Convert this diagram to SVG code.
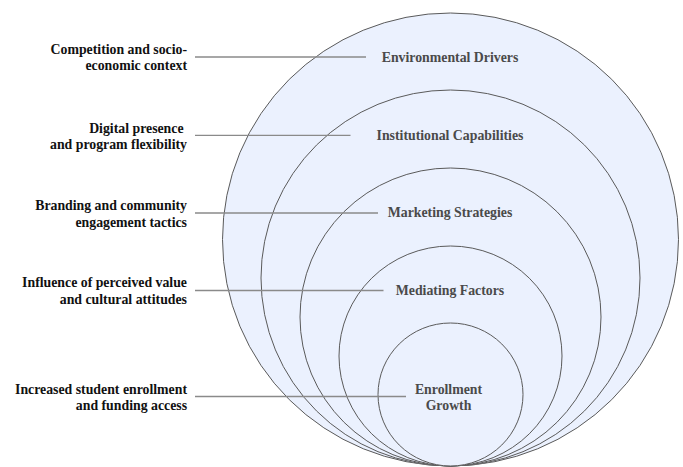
<svg xmlns="http://www.w3.org/2000/svg" width="683" height="467" viewBox="0 0 683 467" font-family="'Liberation Serif', 'Times New Roman', Tinos, 'DejaVu Serif', serif">
  <style>
    .ring { fill: #ebf1fe; stroke: #5a5a5a; stroke-width: 1; }
    .ring-label { font-family: 'Liberation Serif', 'Times New Roman', Tinos, 'DejaVu Serif', serif; font-weight: bold; font-size: 13.8px; fill: #4a4a4a; text-anchor: middle; }
    .note { font-family: 'Liberation Serif', 'Times New Roman', Tinos, 'DejaVu Serif', serif; font-weight: bold; font-size: 13.8px; fill: #111111; text-anchor: end; }
    .link { stroke: #8a8a8a; stroke-width: 1.3; fill: none; }
  </style>

  <!-- nested rings, all touching at the bottom -->
  <g id="environmental-drivers">
    <ellipse class="ring" cx="450.5" cy="239.5" rx="228" ry="226.5"/>
    <text class="ring-label" x="450" y="62">Environmental Drivers</text>
  </g>
  <g id="institutional-capabilities">
    <ellipse class="ring" cx="450.5" cy="278" rx="189.5" ry="188"/>
    <text class="ring-label" x="450" y="139.5">Institutional Capabilities</text>
  </g>
  <g id="marketing-strategies">
    <ellipse class="ring" cx="450.5" cy="317" rx="150.5" ry="149"/>
    <text class="ring-label" x="450" y="217.4">Marketing Strategies</text>
  </g>
  <g id="mediating-factors">
    <ellipse class="ring" cx="450.5" cy="356" rx="111.5" ry="110"/>
    <text class="ring-label" x="450" y="295.4">Mediating Factors</text>
  </g>
  <g id="enrollment-growth">
    <ellipse class="ring" cx="450.5" cy="394.5" rx="72.5" ry="71.5"/>
    <text class="ring-label" x="448.5" y="393.7">Enrollment</text>
    <text class="ring-label" x="448.5" y="409.7">Growth</text>
  </g>

  <!-- leader lines from the notes into each ring -->
  <g id="connectors">
    <line class="link" x1="195" y1="57" x2="366" y2="57"/>
    <line class="link" x1="195" y1="135.3" x2="350.5" y2="135.3"/>
    <line class="link" x1="195" y1="213" x2="378" y2="213"/>
    <line class="link" x1="195" y1="290.5" x2="383.5" y2="290.5"/>
    <line class="link" x1="195" y1="396.5" x2="406" y2="396.5"/>
  </g>

  <!-- side notes -->
  <g id="note-environmental">
    <text class="note" x="187" y="53.5">Competition and socio-</text>
    <text class="note" x="187" y="70">economic context</text>
  </g>
  <g id="note-institutional">
    <text class="note" x="187" y="132.5" xml:space="preserve">Digital presence </text>
    <text class="note" x="187" y="149">and program flexibility</text>
  </g>
  <g id="note-marketing">
    <text class="note" x="187" y="209.5">Branding and community</text>
    <text class="note" x="187" y="226.5">engagement tactics</text>
  </g>
  <g id="note-mediating">
    <text class="note" x="187" y="287">Influence of perceived value</text>
    <text class="note" x="187" y="303.7">and cultural attitudes</text>
  </g>
  <g id="note-enrollment">
    <text class="note" x="187" y="393.5">Increased student enrollment</text>
    <text class="note" x="187" y="410">and funding access</text>
  </g>
</svg>
